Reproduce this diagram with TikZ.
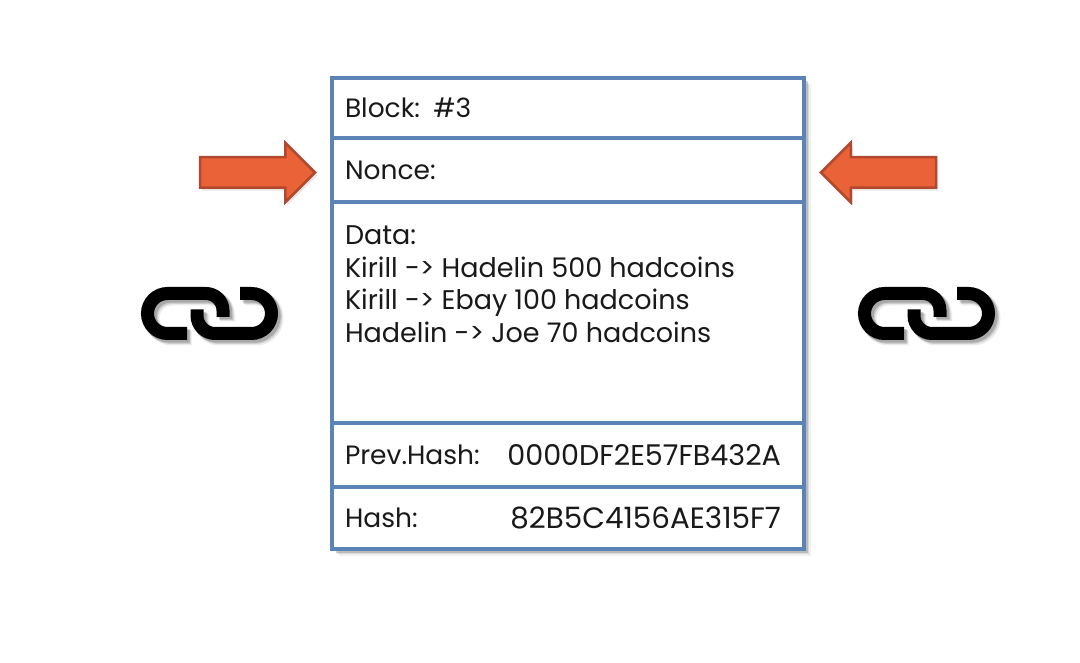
\documentclass[tikz,border=0pt]{standalone}
\usepackage{fontspec}
\setmainfont{Poppins}
\usetikzlibrary{positioning,shapes.arrows,shadows}
\definecolor{blockblue}{HTML}{5B84B6}
\definecolor{arroworange}{HTML}{EA6237}
\definecolor{arrowedge}{HTML}{B2492E}
\tikzset{
  chainlink/.pic={
    \foreach \dx/\op/\wd in {4.5/.08/15,3.5/.12/14,2.5/.18/13.5}{
      \draw[black,opacity=\op,line width=\wd pt,xshift=\dx pt,yshift=-\dx pt]
        (46,20) -- (26.5,20) arc[start angle=90,end angle=270,radius=20] -- (65,-20)
        arc[start angle=270,end angle=360,radius=17] -- (82,3.5);
      \draw[black,opacity=\op,line width=\wd pt,xshift=\dx pt,yshift=-\dx pt]
        (99,-20) -- (110.5,-20) arc[start angle=270,end angle=450,radius=20] -- (74,20)
        arc[start angle=90,end angle=180,radius=18] -- (56,-4);
    }
    \draw[black,line width=13pt]
      (46,20) -- (26.5,20) arc[start angle=90,end angle=270,radius=20] -- (65,-20)
      arc[start angle=270,end angle=360,radius=17] -- (82,3.5);
    \draw[black,line width=13pt]
      (99,-20) -- (110.5,-20) arc[start angle=270,end angle=450,radius=20] -- (74,20)
      arc[start angle=90,end angle=180,radius=18] -- (56,-4);
  }
}
\begin{document}
\begin{tikzpicture}[x=1pt,y=-1pt]
\tikzstyle{every node}=[font=\fontsize{26.5}{32.7}\selectfont,text=black!90,inner sep=0pt,outer sep=0pt]
\tikzstyle{softshadow}=[
  drop shadow={shadow xshift=6.5pt,shadow yshift=-6.5pt,opacity=.12},
  drop shadow={shadow xshift=5pt,shadow yshift=-5pt,opacity=.2},
  drop shadow={shadow xshift=3.5pt,shadow yshift=-3.5pt,opacity=.35} ]
\tikzstyle{blockrow}=[
  rectangle,
  draw=blockblue,
  line width=3.5pt,
  fill=white,
  minimum width=472pt,
  text width=446pt,
  inner xsep=13pt,
  align=left ]
\tikzstyle{hashvalue}=[font=\fontsize{28.6}{32.7}\selectfont,anchor=east]
\tikzstyle{redo}=[
  single arrow,
  single arrow head extend=14.5pt,
  single arrow tip angle=90,
  inner ysep=14pt,
  minimum height=115pt,
  anchor=tip,
  draw=arrowedge,
  line width=2.5pt,
  fill=arroworange,
  drop shadow={shadow xshift=2pt,shadow yshift=-3pt,opacity=.2} ]
\useasboundingbox (0,0) rectangle (1080,663);

\node (frame) [minimum width=472pt,minimum height=471pt,fill=white,softshadow] at (568,313.5) {};

\node (block) [blockrow,minimum height=60pt] at (568,108) {Block: \#3};
\node (nonce) [blockrow,minimum height=64pt,below=0pt of block] {Nonce:};
\node (data) [blockrow,minimum height=221pt,below=0pt of nonce] {};
\node (prev) [blockrow,minimum height=64pt,below=0pt of data] {Prev.Hash:};
\node (hash) [blockrow,minimum height=62pt,below=0pt of prev] {Hash:};

\node (lines) [anchor=north west,align=left,font=\fontsize{27}{32.7}\selectfont] at ([xshift=13pt,yshift=-23.5pt]data.north west)
  {Data:\\Kirill -> Hadelin 500 hadcoins\\Kirill -> Ebay 100 hadcoins\\Hadelin -> Joe 70 hadcoins};
\node (prevhash) [hashvalue] at ([xshift=-23pt]prev.east) {0000DF2E57FB432A};
\node (curhash) [hashvalue,font=\fontsize{29.4}{32.7}\selectfont] at ([xshift=-23pt]hash.east) {82B5C4156AE315F7};

\node (leftarrow) [redo] at (315,172.5) {};
\node (rightarrow) [redo,shape border rotate=180] at (821,172.5) {};

\pic at (141,313.5) {chainlink};
\pic at (858,313.5) {chainlink};
\end{tikzpicture}
\end{document}
